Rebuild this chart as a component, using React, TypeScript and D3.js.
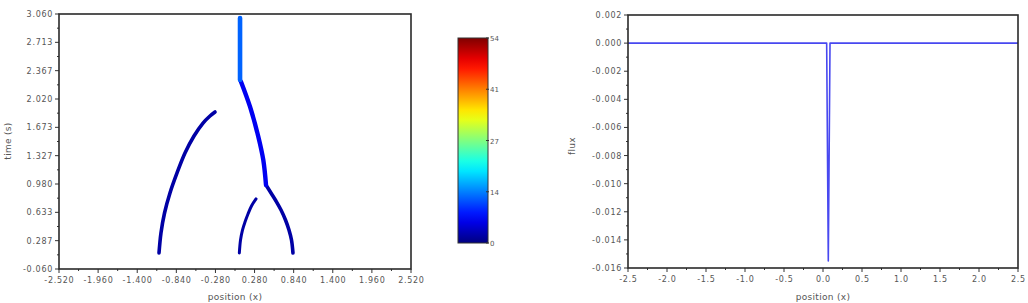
import React from "react";
import * as d3 from "d3";

// ---- data (left: trajectories, time vs position, colored by value) ----
const leftArcX = [-1.088, -1.06, -1.009, -0.931, -0.83, -0.716, -0.587, -0.458, -0.358, -0.286];
const leftArcT = [0.136, 0.381, 0.625, 0.87, 1.115, 1.359, 1.567, 1.726, 1.812, 1.861];
const innerArcX = [0.062, 0.079, 0.107, 0.143, 0.186, 0.236, 0.301];
const innerArcT = [0.136, 0.295, 0.417, 0.515, 0.613, 0.711, 0.797];
const rightBranchX = [0.83, 0.809, 0.773, 0.723, 0.659, 0.587, 0.516, 0.444];
const rightBranchT = [0.136, 0.295, 0.417, 0.54, 0.662, 0.772, 0.87, 0.968];
const middleX = [0.444, 0.405, 0.334, 0.215, 0.086];
const middleT = [0.968, 1.274, 1.559, 1.926, 2.232];
const topX = [0.072, 0.072];
const topT = [2.252, 3.01];
const trackValues = [2, 2, 2, 6, 12]; // colour values (0..54)

const colorMax = 54;
const colorTickCount = 5;

// ---- data (right: flux vs position) ----
const fluxX = [-2.5, 0.047, 0.068, 0.09, 2.5];
const fluxY = [0, 0, -0.0155, 0, 0];

const leftXTicks = d3.range(10).map((i) => -2.52 + i * 0.56);
const leftYTicks = d3.range(10).map((i) => -0.06 + (i * 3.12) / 9);
const rightXTicks = d3.range(11).map((i) => -2.5 + i * 0.5);
const rightYTicks = d3.range(10).map((i) => -0.016 + i * 0.002);

function jet(v: number) {
  const c = (x: number) => Math.max(0, Math.min(1, x));
  const r = c(1.5 - Math.abs(4 * v - 3));
  const g = c(1.5 - Math.abs(4 * v - 2));
  const b = c(1.5 - Math.abs(4 * v - 1));
  return d3.rgb(r * 255, g * 255, b * 255).formatHex();
}

const FONT = "DejaVu Sans, sans-serif";
const TXT = "#555";
const LS = 0.7;
const fmt3 = (v: number) => d3.format(".3f")(v).replace("\u2212", "-");
const fmt1 = (v: number) => d3.format(".1f")(v).replace("\u2212", "-");

function Axes({ xs, ys, xTicks, yTicks, xf, yf }: any) {
  const [x0, x1] = xs.range();
  const [y0, y1] = ys.range(); // y0 bottom, y1 top
  const mids = (t: number[]) => t.slice(0, -1).map((v, i) => (v + t[i + 1]) / 2);
  return (
    <g>
      {xTicks.map((t: number, i: number) => (
        <g key={"xt" + i}>
          <line x1={xs(t)} x2={xs(t)} y1={y0} y2={y0 + 4} stroke="#333" strokeWidth={1} />
          <text x={xs(t) + LS / 2} y={y0 + 14} fontSize={8} fill={TXT} textAnchor="middle" fontFamily={FONT} letterSpacing={LS}>
            {xf(t)}
          </text>
        </g>
      ))}
      {mids(xTicks).map((t: number, i: number) => (
        <line key={"xm" + i} x1={xs(t)} x2={xs(t)} y1={y0} y2={y0 + 2} stroke="#333" strokeWidth={1} />
      ))}
      {yTicks.map((t: number, i: number) => (
        <g key={"yt" + i}>
          <line x1={x0 - 4} x2={x0} y1={ys(t)} y2={ys(t)} stroke="#333" strokeWidth={1} />
          <text x={x0 - 6} y={ys(t) + 3} fontSize={8} fill={TXT} textAnchor="end" fontFamily={FONT} letterSpacing={LS}>
            {yf(t)}
          </text>
        </g>
      ))}
      {mids(yTicks).map((t: number, i: number) => (
        <line key={"ym" + i} x1={x0 - 2} x2={x0} y1={ys(t)} y2={ys(t)} stroke="#333" strokeWidth={1} />
      ))}
      <rect x={x0} y={y1} width={x1 - x0} height={y0 - y1} fill="none" stroke="#2a2a2a" strokeWidth={1.6} />
    </g>
  );
}

export default function App() {
  const xL = d3.scaleLinear([-2.52, 2.52], [59, 411]);
  const yL = d3.scaleLinear([-0.06, 3.06], [269, 14]);
  const xR = d3.scaleLinear([-2.5, 2.5], [628, 1018]);
  const yR = d3.scaleLinear([-0.016, 0.002], [268, 15]);
  const cY = d3.scaleLinear([0, colorMax], [243, 38]);

  const tracks = [
    [leftArcX, leftArcT],
    [innerArcX, innerArcT],
    [rightBranchX, rightBranchT],
    [middleX, middleT],
    [topX, topT],
  ];
  const lineL = d3
    .line<[number, number]>()
    .x((d) => xL(d[0]))
    .y((d) => yL(d[1]))
    .curve(d3.curveCatmullRom);
  const widths = [3.6, 3.0, 3.6, 4.4, 4.6];

  const lineR = d3
    .line<[number, number]>()
    .x((d) => xR(d[0]))
    .y((d) => yR(d[1]));
  const fluxPts = fluxX.map((x, i) => [x, fluxY[i]] as [number, number]);

  const cTicks = d3.range(colorTickCount).map((i) => (i * colorMax) / (colorTickCount - 1));
  const stops = d3.range(0, 1.0001, 0.05);

  return (
    <svg width={1028} height={303} style={{ position: "absolute", left: 0, top: 0, background: "#fff" }}>
      <defs>
        <linearGradient id="jet" x1="0" y1="1" x2="0" y2="0">
          {stops.map((s, i) => (
            <stop key={i} offset={s} stopColor={jet(s)} />
          ))}
        </linearGradient>
      </defs>
      {/* left plot */}
      {tracks.map(([xs, ts], i) => (
        <path
          key={i}
          d={lineL(xs.map((x, j) => [x, ts[j]] as [number, number])) || ""}
          fill="none"
          stroke={jet(trackValues[i] / colorMax)}
          strokeWidth={widths[i]}
          strokeLinecap="round"
          strokeLinejoin="round"
        />
      ))}
      <Axes xs={xL} ys={yL} xTicks={leftXTicks} yTicks={leftYTicks} xf={fmt3} yf={fmt3} />
      <text x={235} y={300} fontSize={9} fill={TXT} textAnchor="middle" fontFamily={FONT} letterSpacing={0.3}>
        position (x)
      </text>
      <text
        transform="translate(11,141) rotate(-90)"
        fontSize={9}
        fill={TXT}
        textAnchor="middle"
        fontFamily={FONT}
        letterSpacing={0.3}
      >
        time (s)
      </text>

      {/* colorbar */}
      <rect x={458} y={cY(colorMax)} width={30} height={cY(0) - cY(colorMax)} fill="url(#jet)" stroke="#333" strokeWidth={1} />
      {cTicks.map((t, i) => (
        <g key={i}>
          <line x1={486} x2={489} y1={cY(t)} y2={cY(t)} stroke="#333" strokeWidth={1} />
          <text x={490} y={cY(t) + 3} fontSize={7} fill={TXT} fontFamily={FONT}>
            {Math.round(t)}
          </text>
        </g>
      ))}

      {/* right plot */}
      <path d={lineR(fluxPts) || ""} fill="none" stroke="#4848f0" strokeWidth={1.6} strokeLinejoin="round" />
      <Axes xs={xR} ys={yR} xTicks={rightXTicks} yTicks={rightYTicks} xf={fmt1} yf={fmt3} />
      <text x={823} y={300} fontSize={9} fill={TXT} textAnchor="middle" fontFamily={FONT} letterSpacing={0.3}>
        position (x)
      </text>
      <text
        transform="translate(575,146) rotate(-90)"
        fontSize={9}
        fill={TXT}
        textAnchor="middle"
        fontFamily={FONT}
        letterSpacing={0.3}
      >
        flux
      </text>
    </svg>
  );
}
